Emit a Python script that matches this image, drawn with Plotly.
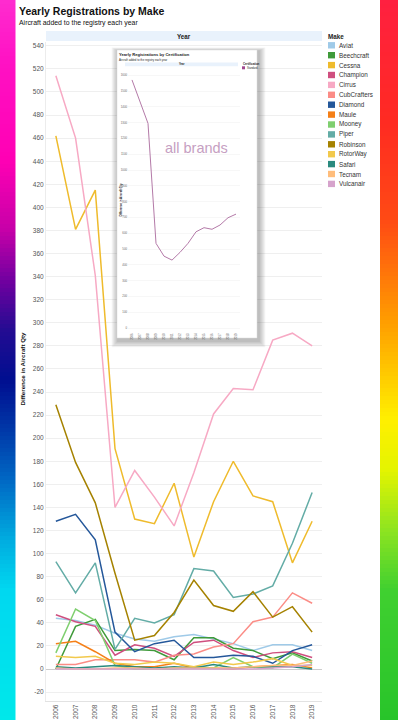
import plotly.graph_objects as go

W, H = 398, 720

# ---------------- data ----------------
years = list(range(2006, 2020))
year_labels = [str(y) for y in years]

makes = ["Aviat", "Beechcraft", "Cessna", "Champion", "Cirrus", "CubCrafters",
         "Diamond", "Maule", "Mooney", "Piper", "Robinson", "RotorWay",
         "Safari", "Tecnam", "Vulcanair"]

aviat       = [44, 42, 38, 31, 26, 24, 28, 30, 26, 22, 16, 21, 21, 16]
beechcraft  = [0, 37, 43, 16, 17, 16, 8, 27, 27, 18, 16, 9, 14, 7]
cessna      = [462, 381, 415, 191, 130, 126, 161, 97, 145, 180, 150, 145, 92, 128]
champion    = [47, 41, 37, 12, 21, 18, 11, 23, 25, 16, 10, 14, 15, 10]
cirrus      = [514, 460, 341, 140, 172, 149, 124, 170, 221, 243, 242, 285, 291, 280]
cubcrafters = [4, 4, 8, 8, 8, 6, 12, 13, 19, 22, 41, 45, 66, 57]
diamond     = [128, 134, 112, 32, 15, 22, 25, 10, 10, 12, 11, 5, 16, 21]
maule       = [22, 24, 15, 5, 2, 2, 5, 1, 1, 0, 2, 3, 4, 1]
mooney      = [14, 52, 42, 3, 0, 0, 0, 2, 1, 10, 2, 1, 13, 5]
piper       = [93, 66, 92, 17, 44, 40, 47, 87, 85, 62, 65, 72, 109, 153]
robinson    = [229, 179, 144, 83, 25, 29, 49, 77, 55, 50, 67, 45, 54, 32]
rotorway    = [11, 10, 11, 5, 4, 6, 5, 2, 6, 4, 6, 9, 3, 3]
safari      = [2, 1, 2, 3, 2, 1, 2, 1, 4, 1, 2, 2, 2, 0]
tecnam      = [1, 0, 0, 1, 1, 0, 1, 1, 1, 1, 2, 3, 3, 7]
vulcanair   = [0, 0, 0, 0, 0, 0, 0, 0, 0, 0, 0, 1, 2, 4]

series = [aviat, beechcraft, cessna, champion, cirrus, cubcrafters, diamond,
          maule, mooney, piper, robinson, rotorway, safari, tecnam, vulcanair]

# inset chart: all brands total
all_brands = [1570, 1432, 1295, 536, 455, 430, 479, 536, 609, 635, 625, 652, 698, 721]

y_ticks = list(range(-20, 541, 20))
inset_ticks = list(range(0, 1601, 100))

# ---------------- style ----------------
colors = ["#9fcae8", "#3f9a3a", "#efbb2c", "#cf4f7f", "#f7a9c4", "#fb8c86",
          "#24579a", "#f57f17", "#7fcf6f", "#63aca6", "#a58200", "#f2c94c",
          "#2a8a7f", "#ffbd7b", "#d6a3cc"]

FONT = "Liberation Sans, Arial, sans-serif"


def px(x):
    return x / W


def py(y):
    return 1 - y / H


def hex2rgb(h):
    h = h.lstrip("#")
    return tuple(int(h[i:i + 2], 16) for i in (0, 2, 4))


def interp(stops, y):
    for (y0, c0), (y1, c1) in zip(stops[:-1], stops[1:]):
        if y0 <= y <= y1:
            t = (y - y0) / (y1 - y0) if y1 > y0 else 0
            a, b = hex2rgb(c0), hex2rgb(c1)
            return "rgb(%d,%d,%d)" % tuple(round(a[k] + (b[k] - a[k]) * t) for k in range(3))
    return stops[-1][1]


left_stops = [(0, "#ff2ccf"), (60, "#ff12c4"), (160, "#ff00b4"), (230, "#c600a8"),
              (280, "#7200a0"), (330, "#240c92"), (380, "#000e90"), (430, "#0038a8"),
              (480, "#0068c4"), (540, "#00ace0"), (590, "#00d8f0"), (720, "#00e8ea")]
right_stops = [(0, "#ff2040"), (120, "#ff2a22"), (220, "#ff4a14"), (320, "#ff9c00"),
               (420, "#fff000"), (470, "#e4f400"), (530, "#8ee420"), (590, "#40d030"),
               (720, "#28c42a")]

shapes = []
annotations = []

# gradient side bars
step = 4
for y in range(0, H, step):
    shapes.append(dict(type="rect", xref="paper", yref="paper", layer="below",
                       x0=0, x1=px(15.5), y0=py(y + step), y1=py(y),
                       fillcolor=interp(left_stops, y + step / 2), line=dict(width=0)))
    shapes.append(dict(type="rect", xref="paper", yref="paper", layer="below",
                       x0=px(380), x1=1, y0=py(y + step), y1=py(y),
                       fillcolor=interp(right_stops, y + step / 2), line=dict(width=0)))

# "Year" header band (main)
shapes.append(dict(type="rect", xref="paper", yref="paper", layer="below",
                   x0=px(46), x1=px(322), y0=py(41), y1=py(31),
                   fillcolor="#e9f2fc", line=dict(width=0)))
annotations.append(dict(text="<b>Year</b>", x=px(184), y=py(36), xref="paper", yref="paper",
                        showarrow=False, font=dict(size=6.3, color="#222", family=FONT),
                        xanchor="center", yanchor="middle", borderpad=0))

# titles
annotations.append(dict(text="<b>Yearly Registrations by Make</b>", x=px(17.5), y=py(11),
                        xref="paper", yref="paper", showarrow=False,
                        font=dict(size=10.5, color="#111", family=FONT),
                        xanchor="left", yanchor="middle", borderpad=0))
annotations.append(dict(text="Aircraft added to the registry each year", x=px(17.5), y=py(23),
                        xref="paper", yref="paper", showarrow=False,
                        font=dict(size=6.9, color="#111", family=FONT),
                        xanchor="left", yanchor="middle", borderpad=0))
# y-axis title
annotations.append(dict(text="<b>Difference in Aircraft Qty</b>", x=px(22.5), y=py(369),
                        xref="paper", yref="paper", showarrow=False, textangle=-90,
                        font=dict(size=6.2, color="#111", family=FONT),
                        xanchor="center", yanchor="middle", borderpad=0))

# manual legend
annotations.append(dict(text="<b>Make</b>", x=px(327), y=py(36.5), xref="paper", yref="paper",
                        showarrow=False, font=dict(size=6.3, color="#222", family=FONT),
                        xanchor="left", yanchor="middle", borderpad=0))
for i, (m, c) in enumerate(zip(makes, colors)):
    cy = 45.3 + i * 9.9
    shapes.append(dict(type="rect", xref="paper", yref="paper", layer="below",
                       x0=px(328), x1=px(335), y0=py(cy + 3.2), y1=py(cy - 3.2),
                       fillcolor=c, line=dict(width=0)))
    annotations.append(dict(text=m, x=px(337.5), y=py(cy), xref="paper", yref="paper",
                            showarrow=False, font=dict(size=6.3, color="#333", family=FONT),
                            xanchor="left", yanchor="middle", borderpad=0))

# ---------------- inset (screenshot-like card) ----------------
BX0, BY0, BX1, BY1 = 117, 50, 257, 338
for i in range(7, 0, -1):
    shapes.append(dict(type="rect", xref="x2", yref="y2", layer="below",
                       x0=BX0 + 1 - i * 0.9, x1=BX1 + 2 + i * 0.9,
                       y0=BY0 + 1 - i * 0.5, y1=BY1 + 3 + i * 0.9,
                       fillcolor="rgba(0,0,0,0.04)", line=dict(width=0)))
shapes.append(dict(type="rect", xref="x2", yref="y2", layer="below",
                   x0=BX0, x1=BX1, y0=BY0, y1=BY1,
                   fillcolor="white", line=dict(width=0.5, color="#d8d8d8")))
shapes.append(dict(type="rect", xref="x2", yref="y2", layer="below",
                   x0=125, x1=238, y0=62.5, y1=66.3,
                   fillcolor="#e9f2fc", line=dict(width=0)))
shapes.append(dict(type="rect", xref="x2", yref="y2", layer="below",
                   x0=242, x1=245, y0=66.3, y1=69.3,
                   fillcolor="#a1488e", line=dict(width=0)))

inset_texts = [
    ("<b>Yearly Registrations by Certification</b>", 118, 55, 4.1, "left", 0),
    ("Aircraft added to the registry each year", 118, 60, 2.8, "left", 0),
    ("<b>Year</b>", 181.5, 64.4, 2.6, "center", 0),
    ("<b>Certification</b>", 241.5, 64.2, 2.8, "left", 0),
    ("Standard", 245.8, 67.9, 2.6, "left", 0),
    ("<b>Difference in Aircraft Qty</b>", 120.5, 200, 2.8, "center", -90),
]
for t, x, y, s, xa, ang in inset_texts:
    annotations.append(dict(text=t, x=px(x), y=py(y), xref="paper", yref="paper",
                            showarrow=False, textangle=ang,
                            font=dict(size=s, color="#222", family=FONT),
                            xanchor=xa, yanchor="middle", borderpad=0))
annotations.append(dict(text="all brands", x=px(196), y=py(148), xref="paper", yref="paper",
                        showarrow=False, font=dict(size=14.5, color="#c6a0c2", family=FONT),
                        xanchor="center", yanchor="middle", borderpad=0))

# ---------------- traces ----------------
fig = go.Figure()
for m, vals, c in zip(makes, series, colors):
    fig.add_trace(go.Scatter(x=years, y=vals, mode="lines", name=m,
                             line=dict(color=c, width=1.5), xaxis="x", yaxis="y",
                             showlegend=False, hoverinfo="skip"))

# placeholder on the pixel-space overlay subplot (holds the inset card shapes)
fig.add_trace(go.Scatter(x=[None], y=[None], mode="lines", xaxis="x2", yaxis="y2",
                         showlegend=False, hoverinfo="skip"))

fig.add_trace(go.Scatter(x=years, y=all_brands, mode="lines", name="Standard",
                         line=dict(color="#b47aa8", width=1), xaxis="x3", yaxis="y3",
                         showlegend=False, hoverinfo="skip"))

fig.update_layout(
    width=W, height=H,
    margin=dict(l=0, r=0, t=0, b=0),
    paper_bgcolor="white",
    plot_bgcolor="rgba(0,0,0,0)",
    showlegend=False,
    font=dict(family=FONT),
    shapes=shapes,
    annotations=annotations,
    xaxis=dict(domain=[px(46), px(322)], range=[2005.5, 2019.5], anchor="y",
               tickvals=years, ticktext=year_labels, tickangle=-90,
               tickfont=dict(size=6.5, color="#555", family=FONT),
               showgrid=False, zeroline=False, showline=True, linecolor="#e2e2e2",
               ticks="", automargin=False, fixedrange=True),
    yaxis=dict(domain=[py(701), py(42)], range=[-27.7, 543.3], anchor="x",
               tickvals=y_ticks, ticktext=[str(v) for v in y_ticks],
               tickfont=dict(size=6.5, color="#555", family=FONT),
               showgrid=True, gridcolor="#efefef", gridwidth=1,
               zeroline=True, zerolinecolor="#cdcdcd", zerolinewidth=1,
               showline=True, linecolor="#ececec",
               ticks="", automargin=False, fixedrange=True),
    xaxis2=dict(domain=[0, 1], range=[0, W], anchor="y2", visible=False, fixedrange=True),
    yaxis2=dict(domain=[0, 1], range=[H, 0], anchor="x2", visible=False, fixedrange=True),
    xaxis3=dict(domain=[px(128), px(240)], range=[2005.5, 2019.5], anchor="y3",
                tickvals=years, ticktext=year_labels, tickangle=-90,
                tickfont=dict(size=2.8, color="#666", family=FONT),
                showgrid=False, zeroline=False, showline=False, ticks="",
                automargin=False, fixedrange=True),
    yaxis3=dict(domain=[py(332), py(73)], range=[-25, 1614], anchor="x3",
                tickvals=inset_ticks, ticktext=[str(v) for v in inset_ticks],
                tickfont=dict(size=2.8, color="#666", family=FONT),
                showgrid=True, gridcolor="#f1f1f1", gridwidth=0.6,
                zeroline=False, showline=False, ticks="",
                automargin=False, fixedrange=True),
)

fig.write_html(
    "out.html",
    config={"displayModeBar": False, "staticPlot": True},
    post_script="document.body.style.margin='0';document.body.style.padding='0';"
                "document.documentElement.style.overflow='hidden';",
)
